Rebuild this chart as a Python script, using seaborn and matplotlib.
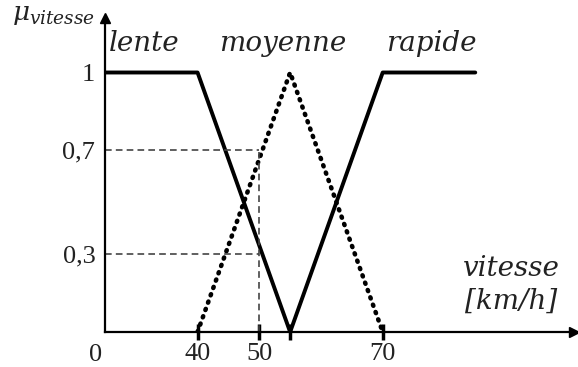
import matplotlib
matplotlib.use("Agg")
import matplotlib.pyplot as plt
import seaborn as sns

sns.set_style("white")
plt.rcParams["font.family"] = ["Liberation Serif", "DejaVu Serif"]
plt.rcParams["mathtext.fontset"] = "dejavuserif"

# Membership functions of the linguistic variable "vitesse"
x_start = 25
x_end = 101
lente_x = [x_start, 40, 55]
lente_mu = [1, 1, 0]
moyenne_x = [40, 55, 70]
moyenne_mu = [0, 1, 0]
rapide_x = [55, 70, 85]
rapide_mu = [0, 1, 1]

speed_ticks = [40, 50, 55, 70]
speed_labels = ["40", "50", "", "70"]
mu_ticks = [1, 0.7, 0.3]
mu_labels = ["1", "0,7", "0,3"]

# Reading at v = 50 km/h
v_read = 50
mu_read = [0.7, 0.3]

fig = plt.figure(figsize=(5.78, 3.67), dpi=100)
ax = fig.add_axes([105 / 578, 35 / 367, (574 - 105) / 578, (332 - 18) / 367])
ax.set_xlim(x_start, x_end)
ax.set_ylim(0, 1.21)

sns.lineplot(x=lente_x, y=lente_mu, ax=ax, color="black", lw=2.8, sort=False)
sns.lineplot(x=rapide_x, y=rapide_mu, ax=ax, color="black", lw=2.8, sort=False)
sns.lineplot(x=moyenne_x, y=moyenne_mu, ax=ax, color="black", lw=3.3,
             linestyle=(0, (0.25, 1.45)), dash_capstyle="round", sort=False)

for m in mu_read:
    ax.plot([x_start, v_read], [m, m], color="#444444", lw=1.2, ls=(0, (4, 2.5)))
ax.plot([v_read, v_read], [0, max(mu_read)], color="#444444", lw=1.2, ls=(0, (4, 2.5)))

for s in ["top", "right"]:
    ax.spines[s].set_visible(False)
for s in ["left", "bottom"]:
    ax.spines[s].set_linewidth(1.6)
    ax.spines[s].set_color("black")

# axis arrows
ax.plot(1, 0, ">k", transform=ax.transAxes, clip_on=False, ms=7)
ax.plot(0, 1, "^k", transform=ax.transAxes, clip_on=False, ms=7)

ax.set_xticks(speed_ticks)
ax.set_xticklabels(speed_labels)
ax.set_yticks(mu_ticks)
ax.set_yticklabels(mu_labels)
ax.tick_params(axis="x", direction="inout", length=12, width=2.5, labelsize=19, pad=2,
               colors="black", bottom=True)
ax.tick_params(axis="y", length=0, labelsize=19, pad=7, colors="black")
for lbl in ax.get_xticklabels() + ax.get_yticklabels():
    lbl.set_color("#222222")

ax.text(x_start - 1.5, -0.045, "0", ha="center", va="top", fontsize=19, color="#222222",
        clip_on=False)

fig.text(12 / 578, 1 - 4 / 367, r"$\mu_{vitesse}$", ha="left", va="top",
         fontsize=19, color="#222222")

label_kw = dict(fontsize=20, style="italic", ha="center", va="center", color="#222222",
                family=["DejaVu Serif"])
ax.text(31.3, 1.11, "lente", **label_kw)
ax.text(53.8, 1.11, "moyenne", **label_kw)
ax.text(77.8, 1.11, "rapide", **label_kw)
ax.text(90.8, 0.245, "vitesse", **label_kw)
ax.text(90.8, 0.12, "[km/h]", **label_kw)

fig.savefig("out.png", dpi=100)
